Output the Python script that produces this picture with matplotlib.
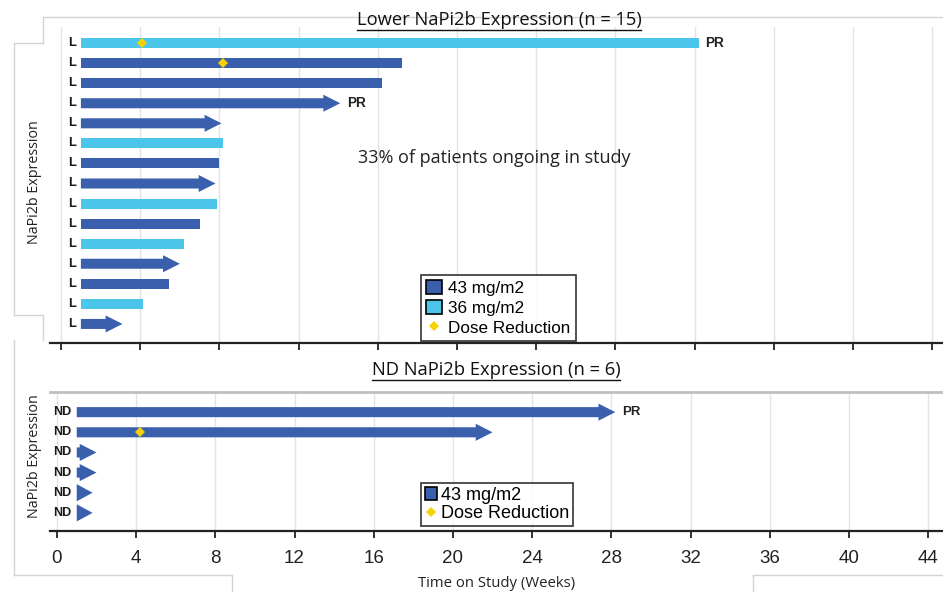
import matplotlib
matplotlib.use("Agg")
import matplotlib.pyplot as plt
from matplotlib.patches import Polygon, Patch
from matplotlib.lines import Line2D

# ---------------- data ----------------
top_labels = ["L"] * 15
top_start = [1] * 15
top_end = [32.2, 17.2, 16.2, 14.1, 8.1, 8.2, 8.0, 7.8, 7.9, 7.0, 6.2, 6.0, 5.45, 4.15, 3.1]
top_dose = ["36", "43", "43", "43", "43", "36", "43", "43", "36", "43", "36", "43", "43", "36", "43"]
top_arrow = [False, False, False, True, True, False, False, True, False, False, False, True, False, False, True]
top_pr = ["PR", "", "", "PR", "", "", "", "", "", "", "", "", "", "", ""]
top_reduction = [4.1, 8.2, None, None, None, None, None, None, None, None, None, None, None, None, None]

bot_labels = ["ND"] * 6
bot_start = [1] * 6
bot_end = [28.2, 22.0, 2.0, 2.0, 1.8, 1.8]
bot_dose = ["43"] * 6
bot_arrow = [True] * 6
bot_pr = ["PR", "", "", "", "", ""]
bot_reduction = [None, 4.2, None, None, None, None]

xticks = [0, 4, 8, 12, 16, 20, 24, 28, 32, 36, 40, 44]

top_title = "Lower NaPi2b Expression (n = 15)"
bot_title = "ND NaPi2b Expression (n = 6)"
ylabel = "NaPi2b Expression"
xlabel = "Time on Study (Weeks)"
note = "33% of patients ongoing in study"

colors = {"43": "#3A60AD", "36": "#4BC5EA"}
yellow = "#F7D100"
GRID = "#E3E3E3"
FRAME = "#D3D3D3"

W, H = 943, 592
fig = plt.figure(figsize=(W / 100, H / 100), dpi=100)


def fx(px):
    return px / W


def fy(py):
    return 1 - py / H


def draw_row(ax, y, start, end, color, arrow, bar_h=0.5, head_h=0.85, head_l=0.85):
    if arrow:
        neck = max(start, end - head_l)
        pts = [(start, y - bar_h / 2), (neck, y - bar_h / 2), (neck, y - head_h / 2),
               (end, y), (neck, y + head_h / 2), (neck, y + bar_h / 2), (start, y + bar_h / 2)]
        if neck == start:
            pts = [(start, y - head_h / 2), (end, y), (start, y + head_h / 2)]
    else:
        pts = [(start, y - bar_h / 2), (end, y - bar_h / 2), (end, y + bar_h / 2), (start, y + bar_h / 2)]
    ax.add_patch(Polygon(pts, closed=True, facecolor=color, edgecolor="none", zorder=3))


def panel(ax, labels, starts, ends, doses, arrows, prs, reds, xl, yl, lab_fs):
    for i in range(len(labels)):
        draw_row(ax, i, starts[i], ends[i], colors[doses[i]], arrows[i])
        ax.text(starts[i] - 0.25, i, labels[i], ha="right", va="center",
                fontsize=lab_fs, family="Liberation Sans", weight="bold",
                color="#1a1a1a", zorder=4)
        if prs[i]:
            ax.text(ends[i] + 0.35, i, prs[i], ha="left", va="center",
                    fontsize=lab_fs + 0.5, family="Liberation Sans", weight="bold",
                    color="#222222", zorder=4)
        if reds[i] is not None:
            ax.plot([reds[i]], [i], marker="D", color=yellow, markersize=5.5,
                    markeredgewidth=0, zorder=5)
    ax.set_xlim(*xl)
    ax.set_ylim(*yl)
    ax.set_xticks(xticks)
    ax.set_yticks([])
    ax.grid(axis="x", color=GRID, lw=1, zorder=0)
    ax.set_axisbelow(True)
    for s in ["left", "right", "top"]:
        ax.spines[s].set_visible(False)
    ax.spines["bottom"].set_color("#222222")
    ax.spines["bottom"].set_linewidth(1.6)
    ax.tick_params(axis="x", direction="out", length=5, width=1.3, color="#222222")


# top panel
ax1 = fig.add_axes([fx(50), fy(343), fx(943 - 50), (343 - 27) / H])
panel(ax1, top_labels, top_start, top_end, top_dose, top_arrow, top_pr, top_reduction,
      (-0.56, 44.55), (14.95, -0.8), 9.3)
ax1.tick_params(axis="x", labelbottom=False)
fig.text(fx(494), fy(158), note, ha="center", va="center",
         fontsize=13, family="Open Sans", color="#222222")

# bottom panel
ax2 = fig.add_axes([fx(50), fy(531), fx(943 - 50), (531 - 392) / H])
panel(ax2, bot_labels, bot_start, bot_end, bot_dose, bot_arrow, bot_pr, bot_reduction,
      (-0.35, 44.75), (5.9, -1.0), 9.0)
ax2.spines["top"].set_visible(True)
ax2.spines["top"].set_color("#BFBFBF")
ax2.spines["top"].set_linewidth(2)
ax2.tick_params(axis="x", labelsize=13.5, pad=9, labelcolor="#222222")
for t in ax2.get_xticklabels():
    t.set_family("Liberation Sans")
ax2.set_xlabel(xlabel, fontsize=10.7, family="Open Sans", labelpad=6, color="#222222")

# y labels
fig.text(fx(35), fy(182), ylabel, rotation=90, ha="center", va="center",
         fontsize=10.3, family="Open Sans", color="#222222")
fig.text(fx(35), fy(456), ylabel, rotation=90, ha="center", va="center",
         fontsize=10.3, family="Open Sans", color="#222222")

# titles with underline
renderer = fig.canvas.get_renderer()
for txt, x, y in [(top_title, 499, 20), (bot_title, 496, 370)]:
    t = fig.text(fx(x), fy(y), txt, ha="center", va="center", fontsize=13.2,
                 family="Open Sans", color="#111111")
    bb = t.get_window_extent(renderer=renderer)
    yline = bb.y0 - 1
    fig.add_artist(Line2D([bb.x0 / W, bb.x1 / W], [yline / H, yline / H],
                          color="#111111", lw=1.0, transform=fig.transFigure))

# legends
h43 = Patch(facecolor=colors["43"], edgecolor="black", lw=1.2, label="43 mg/m2")
h36 = Patch(facecolor=colors["36"], edgecolor="black", lw=1.2, label="36 mg/m2")
hdr = Line2D([], [], marker="D", color=yellow, markersize=5, lw=0,
             markeredgewidth=0, label="Dose Reduction")
leg1 = fig.legend(handles=[h43, h36, hdr], loc="upper left",
                  bbox_to_anchor=(fx(421), fy(275)), frameon=True, fancybox=False,
                  prop={"family": "Liberation Sans", "size": 12.3}, handlelength=0.9,
                  handleheight=0.9, handletextpad=0.4, borderpad=0.3, labelspacing=0.22,
                  borderaxespad=0)
leg1.get_frame().set_edgecolor("black")
leg1.get_frame().set_linewidth(1.2)
leg2 = fig.legend(handles=[h43, hdr], loc="upper left",
                  bbox_to_anchor=(fx(421), fy(483)), frameon=True, fancybox=False,
                  prop={"family": "Liberation Sans", "size": 13}, handlelength=0.7,
                  handleheight=0.7, handletextpad=0.2, borderpad=0.2, labelspacing=0.1,
                  borderaxespad=0)
leg2.get_frame().set_edgecolor("black")
leg2.get_frame().set_linewidth(1.2)

# light screenshot frame lines
frame_segments = [
    [(43, 17), (943, 17)], [(43, 17), (43, 43)], [(14, 43), (43, 43)],
    [(14, 43), (14, 315)], [(14, 315), (43, 315)], [(43, 315), (43, 340)],
    [(14, 340), (14, 575)], [(14, 575), (232, 575)], [(232, 575), (232, 592)],
    [(753, 575), (943, 575)], [(753, 575), (753, 592)],
]
for seg in frame_segments:
    (x0, y0), (x1, y1) = seg
    fig.add_artist(Line2D([fx(x0), fx(x1)], [fy(y0), fy(y1)], color=FRAME, lw=1,
                          transform=fig.transFigure))

fig.savefig("out.png", dpi=100)
